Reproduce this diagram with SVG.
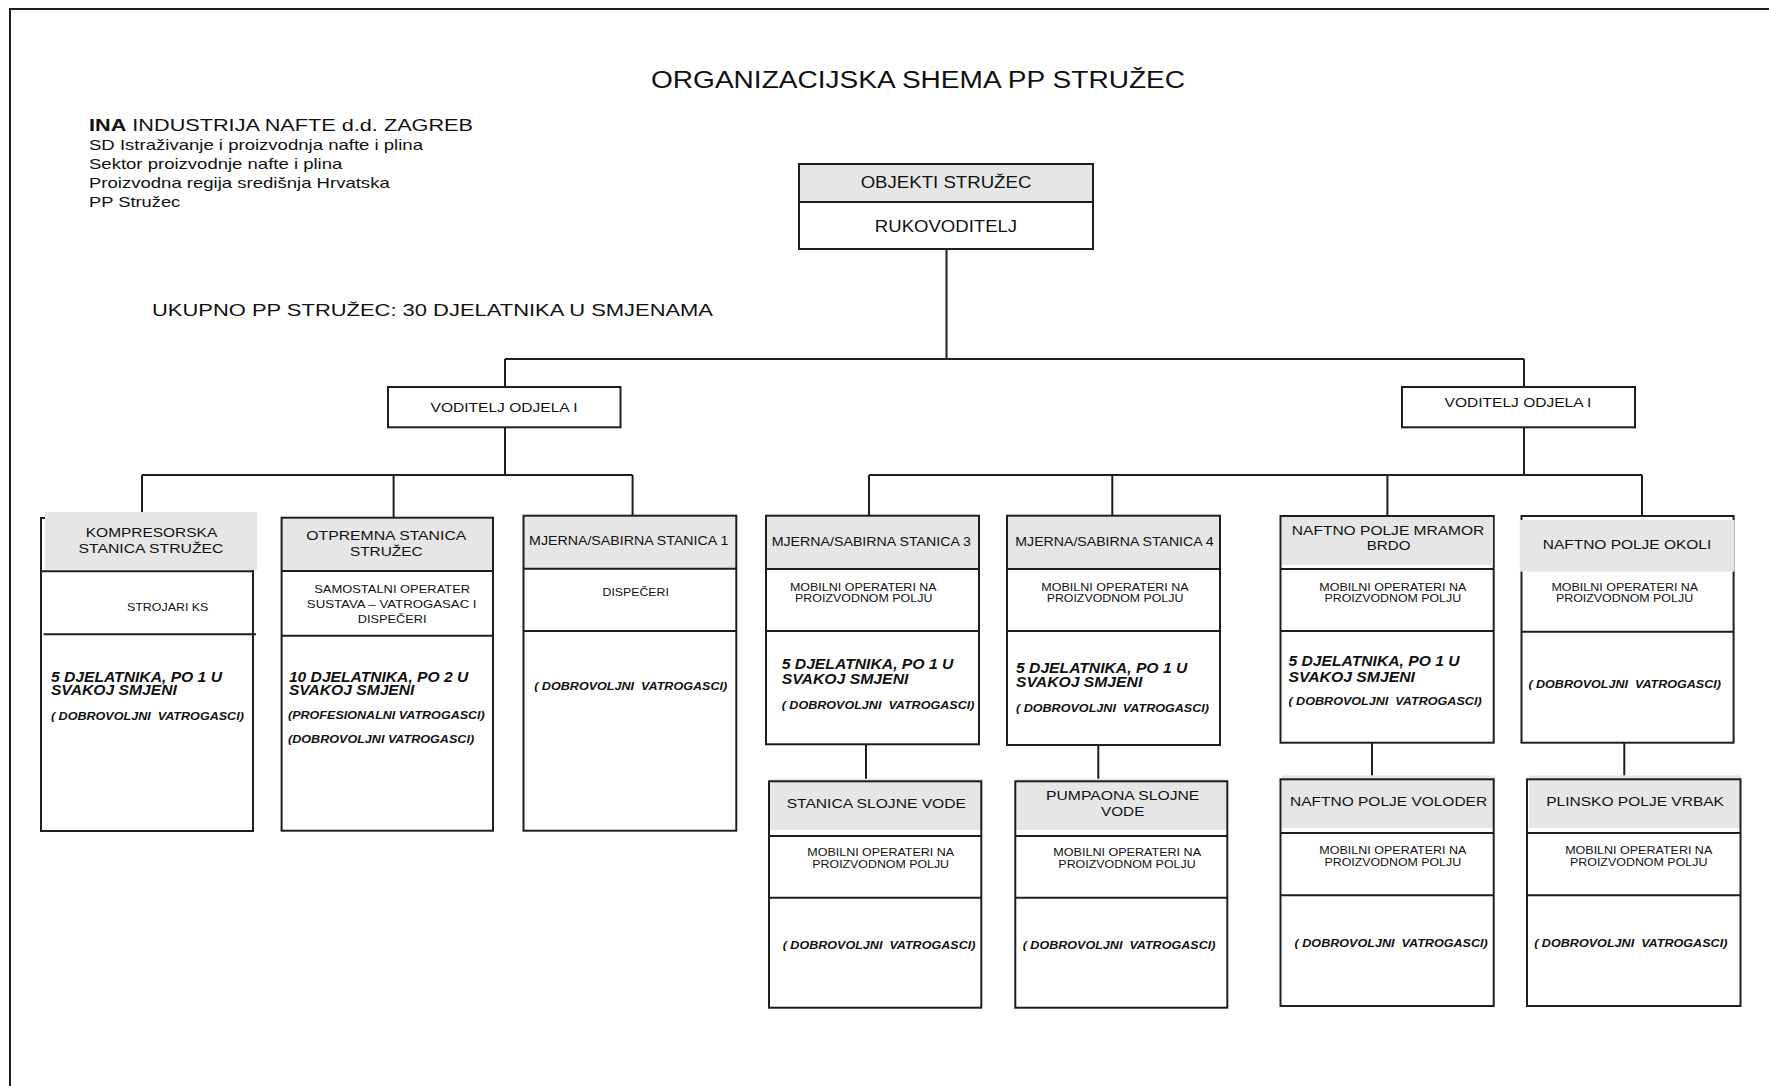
<svg xmlns="http://www.w3.org/2000/svg" width="1769" height="1086" viewBox="0 0 1769 1086">
<style>
.bg{fill:#ffffff}
.ln{stroke:#1e1e1e;stroke-width:2;fill:none}
.box{stroke:#1e1e1e;stroke-width:2;fill:none}
.hdr{fill:#e6e6e6}
.t{font-family:"Liberation Sans",Arial,sans-serif;fill:#111}
.c{text-anchor:middle}
.h{font-size:13px}
.m{font-size:11px}
.s{font-size:11.5px}
.bi{font-size:14px;font-weight:bold;font-style:italic}
.dv{font-size:11.5px;font-weight:bold;font-style:italic}
</style>
<rect class="bg" x="0" y="0" width="1769" height="1086"/>
<path class="ln" d="M10 1086V9H1769"/>

<g id="header-text">
<text class="t" x="89" y="130.5" font-size="16.5" textLength="384" lengthAdjust="spacingAndGlyphs"><tspan font-weight="bold">INA</tspan> INDUSTRIJA NAFTE d.d. ZAGREB</text>
<text class="t" x="89" y="150" font-size="14.5" textLength="334" lengthAdjust="spacingAndGlyphs">SD Istraživanje i proizvodnja nafte i plina</text>
<text class="t" x="89" y="169" font-size="14.5" textLength="253.3" lengthAdjust="spacingAndGlyphs">Sektor proizvodnje nafte i plina</text>
<text class="t" x="89" y="187.7" font-size="14.5" textLength="300.7" lengthAdjust="spacingAndGlyphs">Proizvodna regija središnja Hrvatska</text>
<text class="t" x="89" y="206.5" font-size="14.5" textLength="91.3" lengthAdjust="spacingAndGlyphs">PP Stružec</text>
</g>
<text id="title" class="t" x="651" y="88" font-size="24.5" textLength="534" lengthAdjust="spacingAndGlyphs">ORGANIZACIJSKA SHEMA PP STRUŽEC</text>
<text id="total" class="t" x="152" y="315.7" font-size="17" textLength="561" lengthAdjust="spacingAndGlyphs">UKUPNO PP STRUŽEC: 30 DJELATNIKA U SMJENAMA</text>

<g id="connectors">
<path class="ln" d="M946.5 249V359 M505 359H1524 M505 359V387 M1524 359V387 M505 427V475 M142 475H632.6 M142 475V512 M393.6 475V517.7 M632.6 475V515.7 M1524 427V475 M869 475H1642 M869 475V515.7 M1112.3 475V515.7 M1387.4 475V516 M1642 475V516 M866 744V781.3 M1098.3 745V781.3 M1372 742.7V779.3 M1624.3 742.7V779.3"/>
</g>

<g id="n-objekti">
<rect class="hdr" x="799" y="164" width="294" height="38"/>
<rect class="box" x="799" y="164" width="294" height="85"/>
<line class="ln" x1="799" y1="202" x2="1093" y2="202"/>
<text class="t c" x="946" y="188.3" font-size="17" textLength="170.7" lengthAdjust="spacingAndGlyphs">OBJEKTI STRUŽEC</text>
<text class="t c" x="946" y="232.3" font-size="17" textLength="142.3" lengthAdjust="spacingAndGlyphs">RUKOVODITELJ</text>
</g>

<g id="n-voditelj-1">
<rect class="box" x="388" y="387" width="232.5" height="40.3"/>
<text class="t c h" x="504" y="411.7" textLength="147" lengthAdjust="spacingAndGlyphs">VODITELJ ODJELA I</text>
</g>
<g id="n-voditelj-2">
<rect class="box" x="1402" y="387" width="233" height="40.3"/>
<text class="t c h" x="1518" y="407.3" textLength="146.8" lengthAdjust="spacingAndGlyphs">VODITELJ ODJELA I</text>
</g>

<g id="n-kompresorska">
<rect class="box" x="41" y="518" width="212" height="313"/>
<rect class="hdr" x="45" y="512" width="212" height="58"/>
<line class="ln" x1="41" y1="571.3" x2="253" y2="571.3"/>
<line class="ln" x1="43.6" y1="634.3" x2="256" y2="634.3"/>
<text class="t c h" x="151.5" y="537.3" textLength="131.4" lengthAdjust="spacingAndGlyphs">KOMPRESORSKA</text>
<text class="t c h" x="151" y="553.3" textLength="145" lengthAdjust="spacingAndGlyphs">STANICA STRUŽEC</text>
<text class="t c m" x="167.7" y="611" textLength="81.4" lengthAdjust="spacingAndGlyphs">STROJARI KS</text>
<text class="t bi" x="50.9" y="681.7" textLength="171.1" lengthAdjust="spacingAndGlyphs">5 DJELATNIKA, PO 1 U</text>
<text class="t bi" x="50.9" y="695" textLength="126" lengthAdjust="spacingAndGlyphs">SVAKOJ SMJENI</text>
<text class="t dv" x="50.9" y="720" textLength="193" lengthAdjust="spacingAndGlyphs">( DOBROVOLJNI&#160; VATROGASCI)</text>
</g>

<g id="n-otpremna">
<rect class="hdr" x="281.6" y="517.7" width="211.4" height="53"/>
<rect class="box" x="281.6" y="517.7" width="211.4" height="313"/>
<line class="ln" x1="281.6" y1="571" x2="493" y2="571"/>
<line class="ln" x1="281.6" y1="635.7" x2="493" y2="635.7"/>
<text class="t c h" x="386.3" y="540" textLength="160" lengthAdjust="spacingAndGlyphs">OTPREMNA STANICA</text>
<text class="t c h" x="386.3" y="555.7" textLength="72.7" lengthAdjust="spacingAndGlyphs">STRUŽEC</text>
<text class="t c s" x="392.2" y="593.3" textLength="156" lengthAdjust="spacingAndGlyphs">SAMOSTALNI OPERATER</text>
<text class="t c s" x="391.7" y="608.3" textLength="169.7" lengthAdjust="spacingAndGlyphs">SUSTAVA – VATROGASAC I</text>
<text class="t c s" x="392.2" y="622.7" textLength="68.8" lengthAdjust="spacingAndGlyphs">DISPEČERI</text>
<text class="t bi" x="288.9" y="681.7" textLength="179.4" lengthAdjust="spacingAndGlyphs">10 DJELATNIKA, PO 2 U</text>
<text class="t bi" x="288.9" y="695" textLength="125.5" lengthAdjust="spacingAndGlyphs">SVAKOJ SMJENI</text>
<text class="t dv" x="288" y="719.3" textLength="196.8" lengthAdjust="spacingAndGlyphs">(PROFESIONALNI VATROGASCI)</text>
<text class="t dv" x="288" y="742.7" textLength="186.1" lengthAdjust="spacingAndGlyphs">(DOBROVOLJNI VATROGASCI)</text>
</g>

<g id="n-mjerna-1">
<rect class="hdr" x="523.5" y="515.7" width="212.8" height="53"/>
<rect class="box" x="523.5" y="515.7" width="212.8" height="315"/>
<line class="ln" x1="523.5" y1="568.7" x2="736.3" y2="568.7"/>
<line class="ln" x1="523.5" y1="631" x2="736.3" y2="631"/>
<text class="t c h" x="628.7" y="545" textLength="199.2" lengthAdjust="spacingAndGlyphs">MJERNA/SABIRNA STANICA 1</text>
<text class="t c m" x="635.7" y="595.7" textLength="66.4" lengthAdjust="spacingAndGlyphs">DISPEČERI</text>
<text class="t dv" x="534.2" y="690" textLength="193" lengthAdjust="spacingAndGlyphs">( DOBROVOLJNI&#160; VATROGASCI)</text>
</g>

<g id="n-mjerna-3">
<rect class="hdr" x="765.7" y="515.7" width="213.3" height="53.3"/>
<rect class="box" x="766" y="515.7" width="213" height="228.6"/>
<line class="ln" x1="766" y1="569" x2="979" y2="569"/>
<line class="ln" x1="766" y1="631" x2="979" y2="631"/>
<text class="t c h" x="871.3" y="546" textLength="199.3" lengthAdjust="spacingAndGlyphs">MJERNA/SABIRNA STANICA 3</text>
<text class="t c m" x="863.3" y="591" textLength="146.7" lengthAdjust="spacingAndGlyphs">MOBILNI OPERATERI NA</text>
<text class="t c m" x="863.7" y="602" textLength="137.3" lengthAdjust="spacingAndGlyphs">PROIZVODNOM POLJU</text>
<text class="t bi" x="781.7" y="669.3" textLength="171.7" lengthAdjust="spacingAndGlyphs">5 DJELATNIKA, PO 1 U</text>
<text class="t bi" x="781.7" y="684" textLength="126.7" lengthAdjust="spacingAndGlyphs">SVAKOJ SMJENI</text>
<text class="t dv" x="781.7" y="709" textLength="192.7" lengthAdjust="spacingAndGlyphs">( DOBROVOLJNI&#160; VATROGASCI)</text>
</g>

<g id="n-mjerna-4">
<rect class="hdr" x="1007.3" y="515.7" width="213.4" height="53.3"/>
<rect class="box" x="1007" y="515.7" width="213" height="229.3"/>
<line class="ln" x1="1007" y1="569" x2="1220" y2="569"/>
<line class="ln" x1="1007" y1="631" x2="1220" y2="631"/>
<text class="t c h" x="1114.5" y="546" textLength="198.3" lengthAdjust="spacingAndGlyphs">MJERNA/SABIRNA STANICA 4</text>
<text class="t c m" x="1115" y="591" textLength="147.3" lengthAdjust="spacingAndGlyphs">MOBILNI OPERATERI NA</text>
<text class="t c m" x="1115" y="602" textLength="136.7" lengthAdjust="spacingAndGlyphs">PROIZVODNOM POLJU</text>
<text class="t bi" x="1016" y="672.7" textLength="171.3" lengthAdjust="spacingAndGlyphs">5 DJELATNIKA, PO 1 U</text>
<text class="t bi" x="1016" y="687.3" textLength="126.3" lengthAdjust="spacingAndGlyphs">SVAKOJ SMJENI</text>
<text class="t dv" x="1016" y="711.7" textLength="193" lengthAdjust="spacingAndGlyphs">( DOBROVOLJNI&#160; VATROGASCI)</text>
</g>

<g id="n-mramor-brdo">
<rect class="box" x="1280.5" y="516" width="213.2" height="226.7"/>
<rect class="hdr" x="1282" y="517" width="211" height="48"/>
<line class="ln" x1="1280.5" y1="569" x2="1493.7" y2="569"/>
<line class="ln" x1="1280.5" y1="631" x2="1493.7" y2="631"/>
<text class="t c h" x="1388.1" y="535" textLength="192.5" lengthAdjust="spacingAndGlyphs">NAFTNO POLJE MRAMOR</text>
<text class="t c h" x="1388.6" y="550" textLength="43.7" lengthAdjust="spacingAndGlyphs">BRDO</text>
<text class="t c m" x="1392.9" y="591" textLength="147.1" lengthAdjust="spacingAndGlyphs">MOBILNI OPERATERI NA</text>
<text class="t c m" x="1392.8" y="602" textLength="136.5" lengthAdjust="spacingAndGlyphs">PROIZVODNOM POLJU</text>
<text class="t bi" x="1288.4" y="666" textLength="171.2" lengthAdjust="spacingAndGlyphs">5 DJELATNIKA, PO 1 U</text>
<text class="t bi" x="1288.4" y="681.7" textLength="126.5" lengthAdjust="spacingAndGlyphs">SVAKOJ SMJENI</text>
<text class="t dv" x="1288.4" y="705" textLength="193.2" lengthAdjust="spacingAndGlyphs">( DOBROVOLJNI&#160; VATROGASCI)</text>
</g>

<g id="n-okoli">
<rect class="box" x="1521.5" y="516" width="212.1" height="226.7"/>
<rect class="hdr" x="1519.8" y="520" width="214.8" height="51.7"/>
<line class="ln" x1="1521.5" y1="631.7" x2="1733.6" y2="631.7"/>
<text class="t c h" x="1627" y="549.3" textLength="168.4" lengthAdjust="spacingAndGlyphs">NAFTNO POLJE OKOLI</text>
<text class="t c m" x="1624.8" y="591" textLength="146.8" lengthAdjust="spacingAndGlyphs">MOBILNI OPERATERI NA</text>
<text class="t c m" x="1624.5" y="602" textLength="137.2" lengthAdjust="spacingAndGlyphs">PROIZVODNOM POLJU</text>
<text class="t dv" x="1528.4" y="688.3" textLength="192.5" lengthAdjust="spacingAndGlyphs">( DOBROVOLJNI&#160; VATROGASCI)</text>
</g>

<g id="n-stanica-slojne-vode">
<rect class="hdr" x="770" y="778.7" width="212.7" height="51.3"/>
<rect class="box" x="769" y="781.3" width="212.3" height="226.4"/>
<line class="ln" x1="769" y1="836" x2="981.3" y2="836"/>
<line class="ln" x1="769" y1="897.7" x2="981.3" y2="897.7"/>
<text class="t c h" x="876.3" y="807.7" textLength="179.3" lengthAdjust="spacingAndGlyphs">STANICA SLOJNE VODE</text>
<text class="t c m" x="880.7" y="855.7" textLength="146.7" lengthAdjust="spacingAndGlyphs">MOBILNI OPERATERI NA</text>
<text class="t c m" x="880.7" y="867.7" textLength="136.7" lengthAdjust="spacingAndGlyphs">PROIZVODNOM POLJU</text>
<text class="t dv" x="782.7" y="949" textLength="192.7" lengthAdjust="spacingAndGlyphs">( DOBROVOLJNI&#160; VATROGASCI)</text>
</g>

<g id="n-pumpaona">
<rect class="hdr" x="1016" y="778.7" width="212" height="51.3"/>
<rect class="box" x="1015.3" y="781.3" width="212" height="226.4"/>
<line class="ln" x1="1015.3" y1="836" x2="1227.3" y2="836"/>
<line class="ln" x1="1015.3" y1="897.7" x2="1227.3" y2="897.7"/>
<text class="t c h" x="1122.7" y="800" textLength="153.3" lengthAdjust="spacingAndGlyphs">PUMPAONA SLOJNE</text>
<text class="t c h" x="1122.7" y="816" textLength="43.3" lengthAdjust="spacingAndGlyphs">VODE</text>
<text class="t c m" x="1127.2" y="855.7" textLength="147.7" lengthAdjust="spacingAndGlyphs">MOBILNI OPERATERI NA</text>
<text class="t c m" x="1127" y="867.7" textLength="137.3" lengthAdjust="spacingAndGlyphs">PROIZVODNOM POLJU</text>
<text class="t dv" x="1022.7" y="949" textLength="192.7" lengthAdjust="spacingAndGlyphs">( DOBROVOLJNI&#160; VATROGASCI)</text>
</g>

<g id="n-voloder">
<rect class="hdr" x="1282" y="775.3" width="212.7" height="52.7"/>
<rect class="box" x="1280.5" y="779.3" width="213.2" height="226.7"/>
<line class="ln" x1="1280.5" y1="833" x2="1493.7" y2="833"/>
<line class="ln" x1="1280.5" y1="895.3" x2="1493.7" y2="895.3"/>
<text class="t c h" x="1388.6" y="805.7" textLength="197" lengthAdjust="spacingAndGlyphs">NAFTNO POLJE VOLODER</text>
<text class="t c m" x="1392.9" y="853.7" textLength="147.1" lengthAdjust="spacingAndGlyphs">MOBILNI OPERATERI NA</text>
<text class="t c m" x="1392.8" y="865.7" textLength="136.5" lengthAdjust="spacingAndGlyphs">PROIZVODNOM POLJU</text>
<text class="t dv" x="1294.6" y="946.7" textLength="193.2" lengthAdjust="spacingAndGlyphs">( DOBROVOLJNI&#160; VATROGASCI)</text>
</g>

<g id="n-vrbak">
<rect class="hdr" x="1529" y="775.3" width="212" height="52.7"/>
<rect class="box" x="1527" y="779.3" width="213.5" height="226.7"/>
<line class="ln" x1="1527" y1="833" x2="1740.5" y2="833"/>
<line class="ln" x1="1527" y1="895.3" x2="1740.5" y2="895.3"/>
<text class="t c h" x="1635.1" y="805.7" textLength="177.7" lengthAdjust="spacingAndGlyphs">PLINSKO POLJE VRBAK</text>
<text class="t c m" x="1638.7" y="853.7" textLength="147.1" lengthAdjust="spacingAndGlyphs">MOBILNI OPERATERI NA</text>
<text class="t c m" x="1638.7" y="865.7" textLength="137.5" lengthAdjust="spacingAndGlyphs">PROIZVODNOM POLJU</text>
<text class="t dv" x="1534.2" y="946.7" textLength="193.2" lengthAdjust="spacingAndGlyphs">( DOBROVOLJNI&#160; VATROGASCI)</text>
</g>
</svg>
